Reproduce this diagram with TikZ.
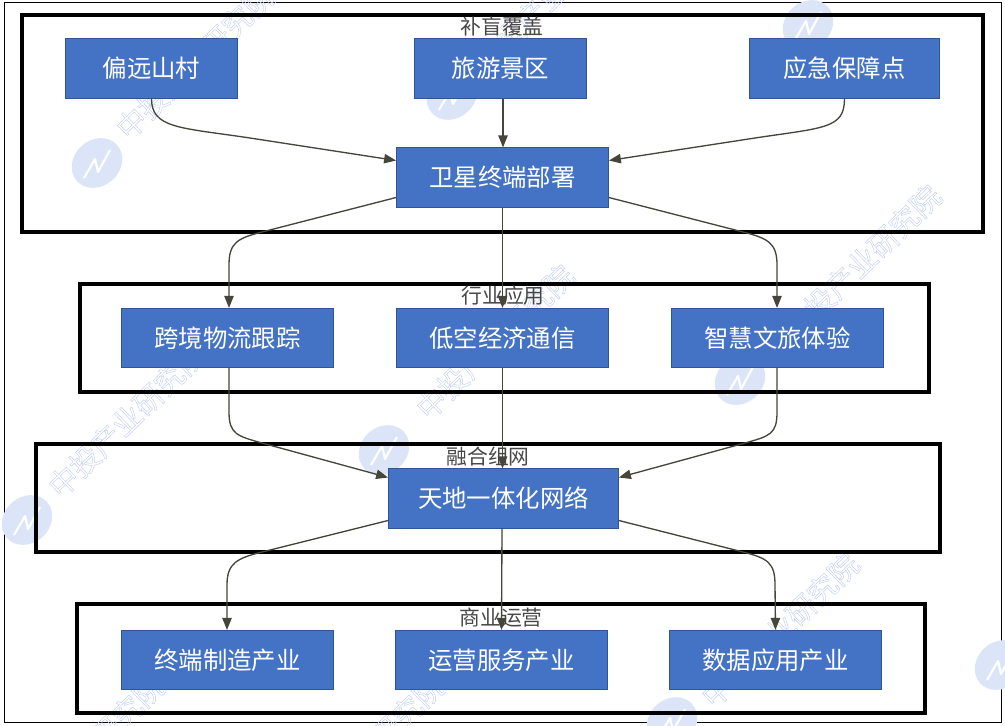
\documentclass[tikz,border=0pt]{standalone}
\usepackage{fontspec}
\setmainfont{Noto Sans CJK SC}
\usetikzlibrary{arrows.meta}
\definecolor{boxblue}{HTML}{4472C4}
\definecolor{boxline}{HTML}{2F5597}
\definecolor{markblue}{HTML}{DCE5F7}
\definecolor{markline}{HTML}{C3CFF2}
\definecolor{linkgrey}{HTML}{45453A}
\newcommand{\outlined}[1]{\special{pdf:code 1 Tr .35 w}#1\special{pdf:code 0 Tr}}
\tikzset{>={Triangle[length=9pt,width=7pt]}}
\tikzset{
  stage/.style={draw=boxline, line width=.6pt, fill=boxblue, text=white, font=\fontsize{18.3}{18.3}\selectfont, minimum height=44.5pt, inner sep=0pt},
  frame/.style={draw=black, line width=2.4pt, inner sep=0pt},
  title/.style={text=black!72, font=\fontsize{15.6}{15.6}\selectfont, inner sep=0pt},
  link/.style={draw=linkgrey, line width=1pt, ->},
  badge/.style={fill=markblue, draw=none},
  wmark/.style={text=markline, font=\fontsize{22}{22}\selectfont, rotate=44, inner sep=0pt}
}

\begin{document}
\begin{tikzpicture}[x=.75pt, y=-.75pt]
        \useasboundingbox (0, 0) rectangle (1005, 725);
        \draw[line width=.7pt] (4, 2) rectangle (1001, 722);
        % watermark
        \begin{scope}
          \clip (0, 0) rectangle (1005, 725);
          \foreach \x/\y in {97/163, 452/95, 808/25, 384/450, 740/380, 27/520, 1000/665, 672/722} {
            \fill[badge, rotate around={42:(\x,\y)}] (\x, \y) ellipse (27 and 23);
            \draw[white, line width=1.6pt, line join=round] (\x-13, \y+15) -- (\x-2, \y-4) -- (\x+1, \y+9) -- (\x+13, \y-13);
          }
          \foreach \x/\y in {195/62, 552/-5, 495/342, 862/262, 127/420, 780/630, 85/752, 365/752}
            \node[wmark] (wm\x) at (\x, \y) {\outlined{中投产业研究院}};
        \end{scope}
        % frames
        \node[frame, minimum width=720.75pt, minimum height=162.75pt] (blind) at (502.5, 123.5) {};
        \node[frame, minimum width=636.75pt, minimum height=81pt] (trade) at (504.5, 338) {};
        \node[frame, minimum width=678pt, minimum height=81pt] (mesh) at (488, 498) {};
        \node[frame, minimum width=636pt, minimum height=81.75pt] (biz) at (501, 658.5) {};
        \node[title] (blindt) at (502, 27) {补盲覆盖};
        \node[title] (tradet) at (503, 296) {行业应用};
        \node[title] (mesht) at (488, 457) {融合组网};
        \node[title] (bizt) at (501, 618) {商业运营};
        % node
        \node[stage, minimum width=129pt] (village) at (151.5, 68.5) {偏远山村};
        \node[stage, minimum width=129pt] (scenic) at (500.5, 68.5) {旅游景区};
        \node[stage, minimum width=142.5pt] (rescue) at (844.5, 68.5) {应急保障点};
        \node[stage, minimum width=159pt] (sat) at (502.5, 177.5) {卫星终端部署};
        \node[stage, minimum width=159pt] (track) at (227.5, 338) {跨境物流跟踪};
        \node[stage, minimum width=159pt] (lowair) at (502.5, 338) {低空经济通信};
        \node[stage, minimum width=159pt] (tour) at (777.5, 338) {智慧文旅体验};
        \node[stage, minimum width=172.5pt] (net) at (503.5, 498.5) {天地一体化网络};
        \node[stage, minimum width=159pt] (maker) at (227.5, 660) {终端制造产业};
        \node[stage, minimum width=159pt] (oper) at (501.5, 660) {运营服务产业};
        \node[stage, minimum width=159pt] (data) at (775.5, 660) {数据应用产业};
        % lines
        \draw[link] (village.south) .. controls +(0, 30) and +(-70, -10.5) .. (250, 138) -- ([yshift=12.75pt]sat.west);
        \draw[link] (scenic.south -| 503, 0) -- (sat.north -| 503, 0);
        \draw[link] (rescue.south) .. controls +(0, 30) and +(70, -10.5) .. (755, 138) -- ([yshift=12.75pt]sat.east);
        \draw[link] ([yshift=-15pt]sat.west) -- (262, 232) .. controls +(-25, 6.3) and +(0, -22) .. (229, 265) -- (track.north -| 229, 0);
        \draw[link] (sat.south) -- (lowair.north);
        \draw[link] ([yshift=-15pt]sat.east) -- (743, 232) .. controls +(25, 6.3) and +(0, -22) .. (777, 265) -- (tour.north -| 777, 0);
        \draw[link] (track.south -| 229, 0) -- (229, 412) .. controls +(0, 22) and +(-25, -7) .. (262, 443) -- ([yshift=15.75pt]net.west);
        \draw[link] (lowair.south) -- (net.north -| 502.5, 0);
        \draw[link] (tour.south -| 777, 0) -- (777, 412) .. controls +(0, 22) and +(25, -7) .. (745, 443) -- ([yshift=15.75pt]net.east);
        \draw[link] ([yshift=-16.5pt]net.west) -- (262, 552) .. controls +(-25, 6.3) and +(0, -22) .. (227, 585) -- (maker.north -| 227, 0);
        \draw[link] (net.south -| 502, 0) -- (oper.north);
        \draw[link] ([yshift=-16.5pt]net.east) -- (743, 552) .. controls +(25, 6.3) and +(0, -22) .. (775, 585) -- (data.north);
\end{tikzpicture}
\end{document}
